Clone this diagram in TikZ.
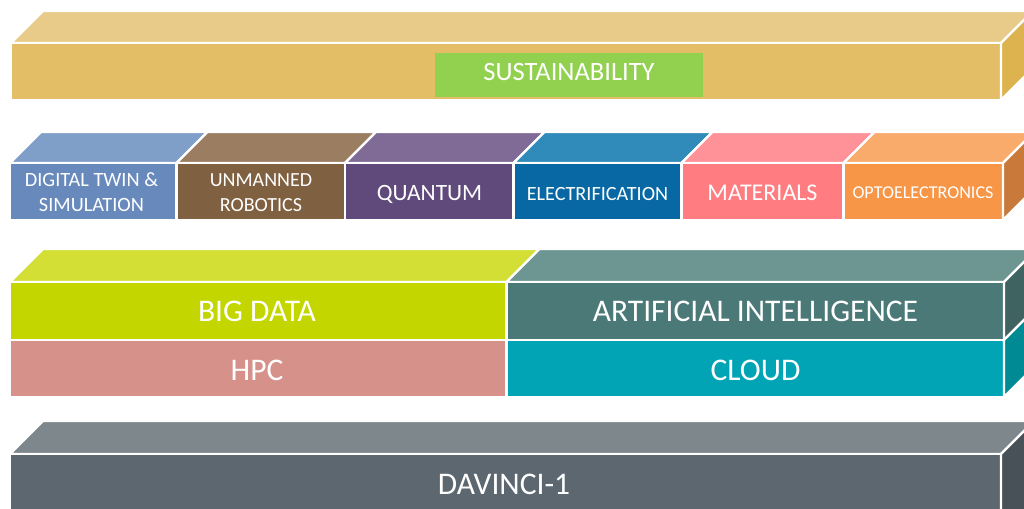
\documentclass[tikz,border=0pt]{standalone}
\usepackage{fontspec}
\setmainfont{Carlito}
\definecolor{sustFront}{HTML}{E3BE67}
\definecolor{sustTop}{HTML}{E8CB88}
\definecolor{sustSide}{HTML}{DDB34F}
\definecolor{sustLabel}{HTML}{92D050}
\definecolor{dtFront}{HTML}{6789BC}
\definecolor{dtTop}{HTML}{809FC8}
\definecolor{urFront}{HTML}{7F6040}
\definecolor{urTop}{HTML}{9B7E62}
\definecolor{qFront}{HTML}{604A7B}
\definecolor{qTop}{HTML}{7F6B96}
\definecolor{elFront}{HTML}{0768A4}
\definecolor{elTop}{HTML}{308ABA}
\definecolor{matFront}{HTML}{FF7C80}
\definecolor{matTop}{HTML}{FF9198}
\definecolor{optFront}{HTML}{F79646}
\definecolor{optTop}{HTML}{F8AB6B}
\definecolor{optSide}{HTML}{C97A3B}
\definecolor{bdFront}{HTML}{C4D600}
\definecolor{bdTop}{HTML}{D3DF35}
\definecolor{hpcFront}{HTML}{D6918A}
\definecolor{aiFront}{HTML}{4A7978}
\definecolor{aiTop}{HTML}{6D9592}
\definecolor{aiSide}{HTML}{3F6361}
\definecolor{cloudFront}{HTML}{00A4B5}
\definecolor{cloudSide}{HTML}{008A94}
\definecolor{dvFront}{HTML}{5C6770}
\definecolor{dvTop}{HTML}{7D878C}
\definecolor{dvSide}{HTML}{485158}
\newcommand\myfront[5]{\filldraw[face,fill=#5] (#1,#2) rectangle (#3,#4);}
\newcommand\mytop[5]{\filldraw[face,fill=#5] (#1,#2) -- ({#1+#4},{#2-#4}) -- ({#3+#4},{#2-#4}) -- (#3,#2) -- cycle;}
\newcommand\myside[5]{\filldraw[face,fill=#5] (#1,#2) -- ({#1+#4},{#2-#4}) -- ({#1+#4},{#3-#4}) -- (#1,#3) -- cycle;}
\newcommand\fs[1]{\fontsize{#1}{#1}\selectfont}
\begin{document}
\begin{tikzpicture}[x=1pt,y=-1pt,
  face/.style={draw=white,line width=2.2pt,line join=miter},
  lbl/.style={text=white,inner sep=0pt,anchor=base}]
\useasboundingbox (0,0) rectangle (1024,508);
\clip (0,0) rectangle (1024,508);
% Sustainability
\mytop{11}{43}{1001}{32}{sustTop}
\myfront{11}{43}{1001}{100}{sustFront}
\myside{1001}{43}{100}{32}{sustSide}
\fill[sustLabel] (435,53) rectangle (703,97);
\node[lbl,font=\fs{26.5}] (sust) at (569,80.7) {SUSTAINABILITY};
% Technology row
\mytop{10}{163}{176.5}{31}{dtTop}
\mytop{176.5}{163}{345}{31}{urTop}
\mytop{345}{163}{513.5}{31}{qTop}
\mytop{513.5}{163}{681.5}{31}{elTop}
\mytop{681.5}{163}{843.5}{31}{matTop}
\mytop{843.5}{163}{1003}{31}{optTop}
\myfront{10}{163}{176.5}{220}{dtFront}
\myfront{176.5}{163}{345}{220}{urFront}
\myfront{345}{163}{513.5}{220}{qFront}
\myfront{513.5}{163}{681.5}{220}{elFront}
\myfront{681.5}{163}{843.5}{220}{matFront}
\myfront{843.5}{163}{1003}{220}{optFront}
\myside{1003}{163}{220}{31}{optSide}
\node[lbl,font=\fs{20.3}] (dta) at (91.5,186.7) {DIGITAL TWIN \&};
\node[lbl,font=\fs{20.3}] (dtb) at (91.5,211.7) {SIMULATION};
\node[lbl,font=\fs{20}] (ura) at (261,186.7) {UNMANNED};
\node[lbl,font=\fs{20}] (urb) at (261,211.7) {ROBOTICS};
\node[lbl,font=\fs{23.4}] (qu) at (429.5,200) {QUANTUM};
\node[lbl,font=\fs{20.2}] (el) at (597.5,200) {ELECTRIFICATION};
\node[lbl,font=\fs{24}] (ma) at (762.5,200) {MATERIALS};
\node[lbl,font=\fs{18.1}] (op) at (923,198.3) {OPTOELECTRONICS};
% Platform row
\mytop{10}{282}{506.5}{33}{bdTop}
\mytop{506.5}{282}{1004}{33}{aiTop}
\myfront{10}{282}{506.5}{340}{bdFront}
\myfront{506.5}{282}{1004}{340}{aiFront}
\myfront{10}{340}{506.5}{397}{hpcFront}
\myfront{506.5}{340}{1004}{397}{cloudFront}
\myside{1004}{282}{340}{33}{aiSide}
\myside{1004}{340}{397}{33}{cloudSide}
\node[lbl,font=\fs{31.5}] (bd) at (257,321.7) {BIG DATA};
\node[lbl,font=\fs{31.5}] (ai) at (755.5,321.7) {ARTIFICIAL INTELLIGENCE};
\node[lbl,font=\fs{31.5}] (hpc) at (257,380.5) {HPC};
\node[lbl,font=\fs{31.5}] (cl) at (755.5,380.5) {CLOUD};
% DaVinci
\mytop{10}{454}{1001}{33}{dvTop}
\myfront{10}{454}{1001}{540}{dvFront}
\myside{1001}{454}{540}{33}{dvSide}
\node[lbl,font=\fs{31.5}] (dv) at (504,494) {DAVINCI-1};
\end{tikzpicture}
\end{document}
